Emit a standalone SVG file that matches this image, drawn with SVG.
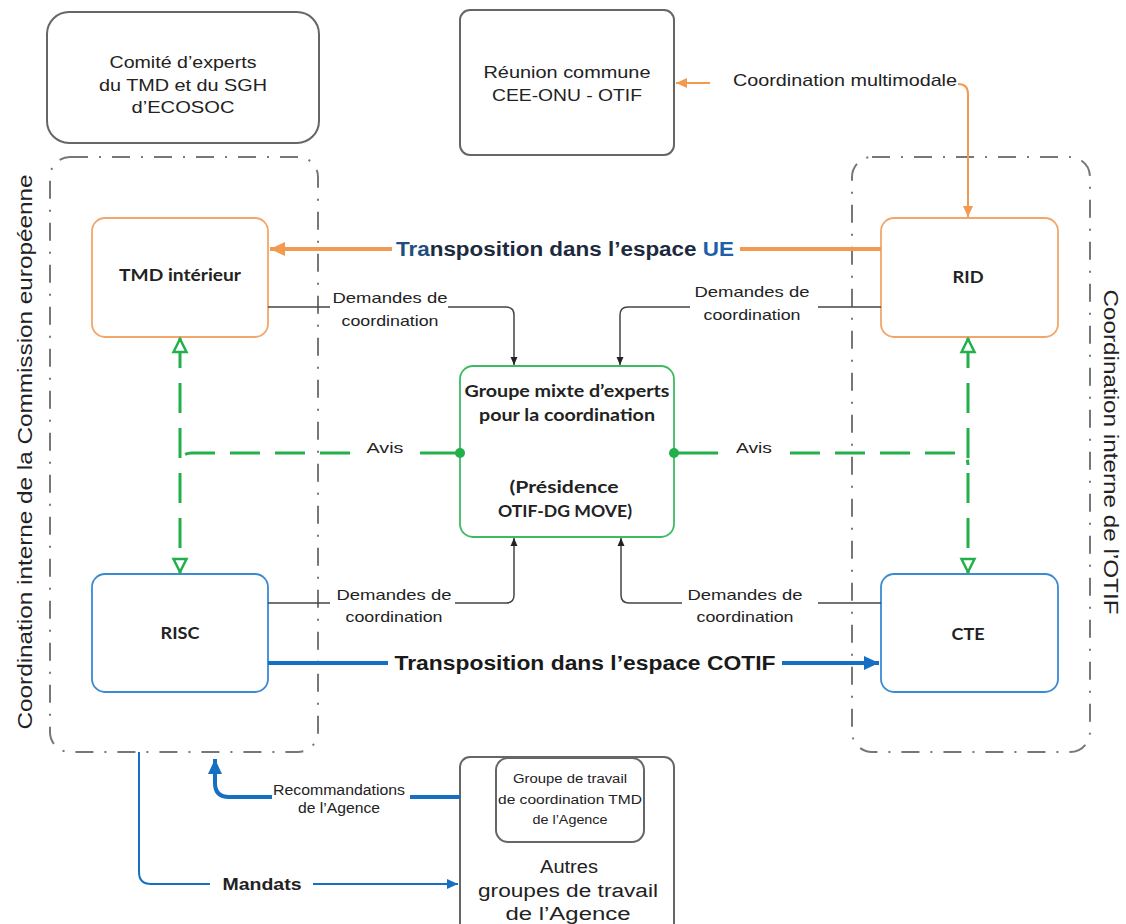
<svg xmlns="http://www.w3.org/2000/svg" width="1126" height="924" viewBox="0 0 1126 924">
<style>
.t{font-family:"Liberation Sans",Arial,sans-serif;fill:#222;text-anchor:middle}
.b{font-family:Lato,"Open Sans",sans-serif;font-weight:bold;fill:#222;text-anchor:middle}
.tb{font-family:"Liberation Sans",Arial,sans-serif;font-weight:bold;text-anchor:middle}
.gbox{fill:#fff;stroke:#666;stroke-width:2}
.obox{fill:#fff;stroke:#f3a66a;stroke-width:1.8}
.bbox{fill:#fff;stroke:#3a8ad4;stroke-width:1.8}
.grbox{fill:#fff;stroke:#3dbb63;stroke-width:1.8}
.dd{fill:none;stroke:#777;stroke-width:2;stroke-dasharray:18 11 2 11}
.thin{fill:none;stroke:#444;stroke-width:1.5}
.or{fill:none;stroke:#f39a52}
.bl{fill:none;stroke:#1570c4}
.gr{fill:none;stroke:#22b04a;stroke-width:3}
.grd{stroke-dasharray:30 15}
</style>
<defs>
<marker id="aO" markerUnits="userSpaceOnUse" markerWidth="16" markerHeight="16" viewBox="0 -8 16 16" refX="15" refY="0" orient="auto"><path d="M0,-7 L15,0 L0,7 z" fill="#f39a52"/></marker>
<marker id="aOs" markerUnits="userSpaceOnUse" markerWidth="12" markerHeight="12" viewBox="0 -6 12 12" refX="11" refY="0" orient="auto"><path d="M0,-5 L11,0 L0,5 z" fill="#f39a52"/></marker>
<marker id="aB" markerUnits="userSpaceOnUse" markerWidth="16" markerHeight="16" viewBox="0 -8 16 16" refX="15" refY="0" orient="auto"><path d="M0,-7 L15,0 L0,7 z" fill="#1570c4"/></marker>
<marker id="aBs" markerUnits="userSpaceOnUse" markerWidth="12" markerHeight="12" viewBox="0 -6 12 12" refX="11" refY="0" orient="auto"><path d="M0,-5 L11,0 L0,5 z" fill="#1570c4"/></marker>
<marker id="aK" markerUnits="userSpaceOnUse" markerWidth="10" markerHeight="10" viewBox="0 -5 10 10" refX="8" refY="0" orient="auto"><path d="M0,-3.5 L8,0 L0,3.5 z" fill="#222"/></marker>
<marker id="aG" markerUnits="userSpaceOnUse" markerWidth="20" markerHeight="20" viewBox="-2 -9 20 18" refX="15" refY="0" orient="auto-start-reverse"><path d="M1,-6.5 L14,0 L1,6.5 z" fill="#fff" stroke="#22b04a" stroke-width="2.5"/></marker>
</defs>

<!-- containers -->
<g id="container-ce">
<rect class="dd" x="50" y="157" width="268" height="595" rx="20"/>
<text class="t" font-size="20" transform="translate(32,452) rotate(-90)" textLength="555" lengthAdjust="spacingAndGlyphs">Coordination interne de la Commission européenne</text>
</g>
<g id="container-otif">
<rect class="dd" x="852" y="157" width="238" height="595" rx="20"/>
<text class="t" font-size="20" transform="translate(1104,452) rotate(90)" textLength="325" lengthAdjust="spacingAndGlyphs">Coordination interne de l’OTIF</text>
</g>

<!-- nodes -->
<g id="comite">
<rect class="gbox" x="47" y="12" width="272" height="131" rx="22"/>
<text class="t" font-size="17" x="183" y="68" textLength="147" lengthAdjust="spacingAndGlyphs">Comité d’experts</text>
<text class="t" font-size="17" x="183" y="91" textLength="168" lengthAdjust="spacingAndGlyphs">du TMD et du SGH</text>
<text class="t" font-size="17" x="183" y="113" textLength="103" lengthAdjust="spacingAndGlyphs">d’ECOSOC</text>
</g>
<g id="reunion">
<rect class="gbox" x="460" y="10" width="214" height="145" rx="10"/>
<text class="t" font-size="17" x="567" y="78" textLength="167" lengthAdjust="spacingAndGlyphs">Réunion commune</text>
<text class="t" font-size="17" x="567" y="101" textLength="150" lengthAdjust="spacingAndGlyphs">CEE-ONU - OTIF</text>
</g>
<g id="tmd">
<rect class="obox" x="92" y="218" width="176" height="119" rx="13"/>
<text class="b" font-size="17" x="180" y="281" textLength="122" lengthAdjust="spacingAndGlyphs">TMD intérieur</text>
</g>
<g id="rid">
<rect class="obox" x="881" y="218" width="177" height="119" rx="13"/>
<text class="b" font-size="17" x="968" y="283" textLength="31" lengthAdjust="spacingAndGlyphs">RID</text>
</g>
<g id="risc">
<rect class="bbox" x="92" y="574" width="176" height="118" rx="13"/>
<text class="b" font-size="17" x="180" y="639" textLength="39" lengthAdjust="spacingAndGlyphs">RISC</text>
</g>
<g id="cte">
<rect class="bbox" x="881" y="574" width="177" height="118" rx="13"/>
<text class="b" font-size="17" x="968" y="640" textLength="33" lengthAdjust="spacingAndGlyphs">CTE</text>
</g>
<g id="groupe-mixte">
<rect class="grbox" x="460" y="366" width="214" height="171" rx="13"/>
<text class="b" font-size="17" x="567" y="397" textLength="205" lengthAdjust="spacingAndGlyphs">Groupe mixte d’experts</text>
<text class="b" font-size="17" x="567" y="421" textLength="176" lengthAdjust="spacingAndGlyphs">pour la coordination</text>
<text class="b" font-size="17" x="564" y="493" textLength="109" lengthAdjust="spacingAndGlyphs">(Présidence</text>
<text class="b" font-size="17" x="565" y="517" textLength="134" lengthAdjust="spacingAndGlyphs">OTIF-DG MOVE)</text>
</g>
<g id="agence">
<rect class="gbox" x="460" y="757" width="214" height="180" rx="10"/>
<rect class="gbox" x="496" y="758" width="148" height="84" rx="12"/>
<text class="t" font-size="12" x="570" y="783" textLength="114" lengthAdjust="spacingAndGlyphs">Groupe de travail</text>
<text class="t" font-size="12" x="570" y="804" textLength="144" lengthAdjust="spacingAndGlyphs">de coordination TMD</text>
<text class="t" font-size="12" x="570" y="824" textLength="75" lengthAdjust="spacingAndGlyphs">de l’Agence</text>
<text class="t" font-size="18" x="569" y="873" textLength="58" lengthAdjust="spacingAndGlyphs">Autres</text>
<text class="t" font-size="18" x="568" y="897" textLength="180" lengthAdjust="spacingAndGlyphs">groupes de travail</text>
<text class="t" font-size="18" x="568" y="920" textLength="125" lengthAdjust="spacingAndGlyphs">de l’Agence</text>
</g>

<!-- connectors -->
<g id="connectors">
<!-- multimodal coordination -->
<path class="or" stroke-width="2" d="M710 83 H676" marker-end="url(#aOs)"/>
<path class="or" stroke-width="2" d="M958 84 Q968 84 968 94 V217" marker-end="url(#aOs)"/>
<text class="t" font-size="17" x="845" y="86" textLength="224" lengthAdjust="spacingAndGlyphs">Coordination multimodale</text>

<!-- transposition UE -->
<path class="or" stroke-width="4" d="M881 249 H740"/>
<path class="or" stroke-width="4" d="M392 249 H270" marker-end="url(#aO)"/>
<text class="tb" font-size="20" x="565" y="256" fill="#1d2a3e" textLength="338" lengthAdjust="spacingAndGlyphs"><tspan fill="#1f4f80">Tra</tspan>nsposition dans l’espace <tspan fill="#1f5fa8">UE</tspan></text>

<!-- transposition COTIF -->
<path class="bl" stroke-width="4" d="M268 663 H388"/>
<path class="bl" stroke-width="4" d="M782 663 H879" marker-end="url(#aB)"/>
<text class="tb" font-size="20" x="585" y="670" fill="#1a1a1a" textLength="381" lengthAdjust="spacingAndGlyphs">Transposition dans l’espace COTIF</text>

<!-- demandes de coordination -->
<path class="thin" d="M268 307 H330"/>
<path class="thin" d="M448 307 H506 Q514 307 514 315 V365" marker-end="url(#aK)"/>
<text class="t" font-size="15" x="390" y="303" textLength="115" lengthAdjust="spacingAndGlyphs">Demandes de</text>
<text class="t" font-size="15" x="390" y="326" textLength="97" lengthAdjust="spacingAndGlyphs">coordination</text>

<path class="thin" d="M881 307 H818"/>
<path class="thin" d="M690 307 H628 Q620 307 620 315 V365" marker-end="url(#aK)"/>
<text class="t" font-size="15" x="752" y="297" textLength="115" lengthAdjust="spacingAndGlyphs">Demandes de</text>
<text class="t" font-size="15" x="752" y="320" textLength="97" lengthAdjust="spacingAndGlyphs">coordination</text>

<path class="thin" d="M268 603 H330"/>
<path class="thin" d="M455 603 H506 Q514 603 514 595 V538" marker-end="url(#aK)"/>
<text class="t" font-size="15" x="394" y="600" textLength="115" lengthAdjust="spacingAndGlyphs">Demandes de</text>
<text class="t" font-size="15" x="394" y="622" textLength="97" lengthAdjust="spacingAndGlyphs">coordination</text>

<path class="thin" d="M881 603 H818"/>
<path class="thin" d="M682 603 H629 Q621 603 621 595 V538" marker-end="url(#aK)"/>
<text class="t" font-size="15" x="745" y="600" textLength="115" lengthAdjust="spacingAndGlyphs">Demandes de</text>
<text class="t" font-size="15" x="745" y="622" textLength="97" lengthAdjust="spacingAndGlyphs">coordination</text>

<!-- avis (green) -->
<path class="gr grd" d="M180 338 V573" marker-start="url(#aG)" marker-end="url(#aG)"/>
<path class="gr grd" d="M968 338 V573" marker-start="url(#aG)" marker-end="url(#aG)"/>
<path class="gr grd" d="M350 453 H192 Q180 453 180 465"/>
<path class="gr" d="M420 453 H460"/>
<circle cx="460" cy="453" r="5" fill="#22b04a"/>
<text class="t" font-size="15" x="385" y="453" textLength="37" lengthAdjust="spacingAndGlyphs">Avis</text>
<path class="gr" d="M674 453 H718"/>
<circle cx="674" cy="453" r="5" fill="#22b04a"/>
<path class="gr grd" d="M790 453 H956 Q968 453 968 465"/>
<text class="t" font-size="15" x="754" y="453" textLength="36" lengthAdjust="spacingAndGlyphs">Avis</text>

<!-- recommandations -->
<path class="bl" stroke-width="4" d="M460 797 H410"/>
<path class="bl" stroke-width="4" d="M272 797 H229 Q215 797 215 783 V759" marker-end="url(#aB)"/>
<text class="t" font-size="14" x="339" y="795" textLength="132" lengthAdjust="spacingAndGlyphs">Recommandations</text>
<text class="t" font-size="14" x="339" y="813" textLength="82" lengthAdjust="spacingAndGlyphs">de l’Agence</text>

<!-- mandats -->
<path class="bl" stroke-width="2" d="M139 752 V872 Q139 884 151 884 H210"/>
<path class="bl" stroke-width="2" d="M313 884 H458" marker-end="url(#aBs)"/>
<text class="tb" font-size="17" x="262" y="890" fill="#222" textLength="79" lengthAdjust="spacingAndGlyphs">Mandats</text>
</g>
</svg>
